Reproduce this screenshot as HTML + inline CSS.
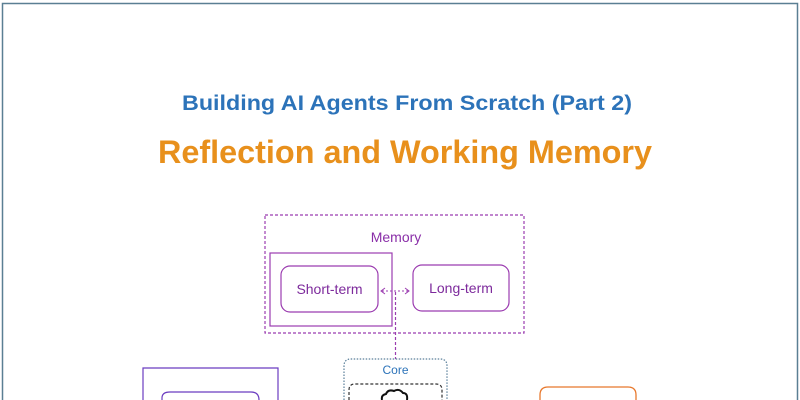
<!DOCTYPE html>
<html><head><style>
html,body{margin:0;padding:0;background:#fff;width:800px;height:400px;overflow:hidden;font-family:"Liberation Sans",sans-serif}
svg{display:block}
</style></head><body>
<svg width="800" height="400" viewBox="0 0 800 400" xmlns="http://www.w3.org/2000/svg" font-family="Liberation Sans, sans-serif">
<path d="M2.5 400 V3.5 H797.5 V400" fill="#fff" stroke="#5a7f93" stroke-width="1.5"/>
<text x="407" y="110" text-anchor="middle" font-size="21" font-weight="bold" fill="#2c73b9" textLength="450" lengthAdjust="spacingAndGlyphs">Building AI Agents From Scratch (Part 2)</text>
<text x="405" y="163" text-anchor="middle" font-size="32" font-weight="bold" fill="#e8901c" textLength="494" lengthAdjust="spacingAndGlyphs">Reflection and Working Memory</text>
<rect x="265" y="215" width="259" height="118" fill="none" stroke="#9b3cb0" stroke-width="1.2" stroke-dasharray="3,2"/>
<text x="396" y="242" text-anchor="middle" font-size="14" fill="#8a2fa8">Memory</text>
<rect x="270" y="253" width="122" height="73" fill="none" stroke="#9b3cb0" stroke-width="1.2"/>
<rect x="281" y="266" width="97" height="46" rx="9" fill="none" stroke="#9b3cb0" stroke-width="1.2"/>
<text x="329.5" y="294" text-anchor="middle" font-size="14" fill="#7d2a9c">Short-term</text>
<rect x="413" y="265" width="96" height="46" rx="9" fill="none" stroke="#9b3cb0" stroke-width="1.2"/>
<text x="461" y="293" text-anchor="middle" font-size="14" fill="#7d2a9c">Long-term</text>
<line x1="382" y1="291" x2="408" y2="291" stroke="#9b3cb0" stroke-width="1" stroke-dasharray="2,2"/>
<path d="M385 288 L381 291 L385 294 M405 288 L409 291 L405 294" fill="none" stroke="#9b3cb0" stroke-width="1"/>
<line x1="395.5" y1="292" x2="395.5" y2="359" stroke="#9b3cb0" stroke-width="1.2" stroke-dasharray="3,2"/>
<path d="M344 400 V366 Q344 359 351 359 H440 Q447 359 447 366 V400" fill="none" stroke="#5a7f9a" stroke-width="1.2" stroke-dasharray="1.5,1.5"/>
<text x="395.5" y="374" text-anchor="middle" font-size="12" fill="#2c73b9">Core</text>
<path d="M349 400 V390 Q349 384 355 384 H436 Q442 384 442 390 V400" fill="none" stroke="#333" stroke-width="1.2" stroke-dasharray="3,2"/>
<path d="M382 400 q-1 -5 4 -6 q2 -5 8 -3 q5 -3 9 2 q5 0 4 7" fill="none" stroke="#111" stroke-width="2"/>
<path d="M143 400 V368 H278 V400" fill="none" stroke="#6b3cc0" stroke-width="1.2"/>
<path d="M162 400 V400 V398 Q162 392 170 392 H251 Q259 392 259 400" fill="none" stroke="#6b3cc0" stroke-width="1.2"/>
<path d="M540 400 V395 Q540 387 548 387 H628 Q636 387 636 395 V400" fill="none" stroke="#e8782c" stroke-width="1.3"/>
</svg>
</body></html>
